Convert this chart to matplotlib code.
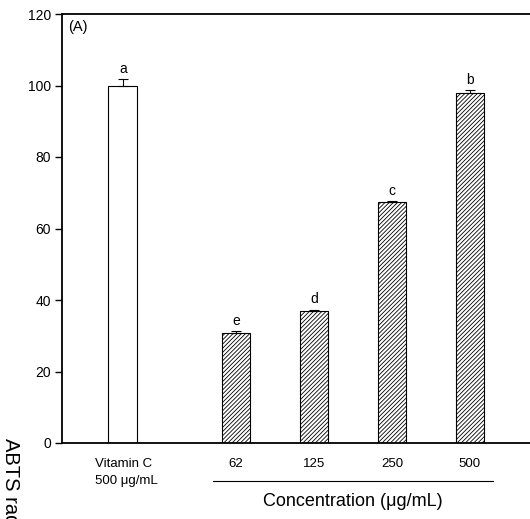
import numpy as np
import matplotlib
matplotlib.use("Agg")
import matplotlib.pyplot as plt

plt.rcParams['font.family'] = ['Liberation Sans', 'DejaVu Sans']
plt.rcParams['hatch.linewidth'] = 0.6

# data
labels = ["Vitamin C\n500 \u03bcg/mL", "62", "125", "250", "500"]
values = [100.0, 30.8, 37.0, 67.3, 97.8]
errors = [1.7, 0.4, 0.3, 0.3, 0.9]
letters = ["a", "e", "d", "c", "b"]
xpos = [1.0, 2.45, 3.45, 4.45, 5.45]

fig = plt.figure(figsize=(5.30, 5.19), dpi=100)
ax = fig.add_axes([62/530, 1 - 443/519, 480/530, 429/519])

for i in range(len(values)):
    hatch = None if i == 0 else '////////'
    ax.bar(xpos[i], values[i], width=0.37, color='white', edgecolor='black',
           linewidth=0.8, hatch=hatch, zorder=2)
    ax.errorbar(xpos[i], values[i], yerr=[[0], [errors[i]]], fmt='none',
                ecolor='black', elinewidth=0.8, capsize=3.5, capthick=0.8, zorder=3)
    ax.text(xpos[i], values[i] + errors[i] + 1.0, letters[i],
            ha='center', va='bottom', fontsize=10)

ax.set_xlim(0.22, 0.22 + 480/78)
ax.set_ylim(0, 120)
ax.set_yticks(np.arange(0, 121, 20))
ax.tick_params(axis='y', direction='out', length=5, width=1, labelsize=10, pad=3)
ax.set_xticks([])
for s in ['left', 'bottom', 'top']:
    ax.spines[s].set_linewidth(1.3)
ax.spines['right'].set_visible(False)

ax.text(0.012, 0.985, "(A)", ha='left', va='top', fontsize=10.5,
        transform=ax.transAxes)

# category labels under the axis
ax.text(0.64, -4.3, labels[0], ha='left', va='top', fontsize=9.5,
        linespacing=1.55)
for i in range(1, len(labels)):
    ax.text(xpos[i], -4.3, labels[i], ha='center', va='top', fontsize=9.5)

# bracket line and group title
ax.plot([xpos[1] - 0.3, xpos[4] + 0.3], [-10.7, -10.7], color='black',
        linewidth=0.8, clip_on=False)
ax.text((xpos[1] + xpos[4]) / 2, -14, "Concentration (\u03bcg/mL)",
        ha='center', va='top', fontsize=13)

fig.text(10/530, 1 - 438/519, "ABTS radical scavenging activity (%)",
         rotation=270, ha='center', va='top', fontsize=14.5)

fig.savefig("out.png", dpi=100)
